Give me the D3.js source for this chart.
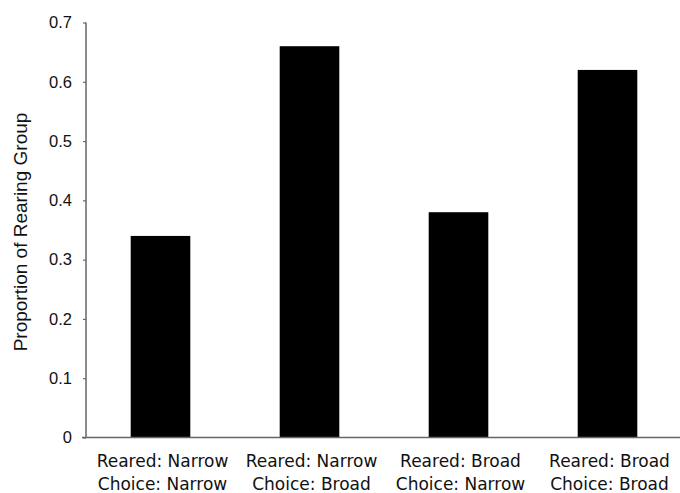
<!DOCTYPE html>
<html><head><meta charset="utf-8">
<script src="https://cdn.jsdelivr.net/npm/d3@7"></script>
<style>body{margin:0;background:#fff}</style>
</head><body>
<svg id="c" width="680" height="493"></svg>
<script>
const rearedLabels = ["Reared: Narrow", "Reared: Narrow", "Reared: Broad", "Reared: Broad"];
const choiceLabels = ["Choice: Narrow", "Choice: Broad", "Choice: Narrow", "Choice: Broad"];
const values = [0.34, 0.66, 0.38, 0.62];
const yTicks = [0, 0.1, 0.2, 0.3, 0.4, 0.5, 0.6, 0.7];
const yTitle = "Proportion of Rearing Group";

(function () {
const svg = d3.select("#c");
const mLeft = 86, mRight = 682, mTop = 22.5, mBottom = 437.5;
const idx = values.map((d, i) => i);
const x = d3.scaleBand().domain(idx).range([mLeft, mRight]).paddingInner(0.6).paddingOuter(0.3);
const y = d3.scaleLinear().domain([0, 0.7]).range([mBottom, mTop]);

svg.selectAll("rect.bar").data(values).enter().append("rect")
  .attr("x", (d, i) => x(i)).attr("width", x.bandwidth())
  .attr("y", d => y(d)).attr("height", d => y(0) - y(d)).attr("fill", "#000");

const yAxis = svg.append("g").attr("transform", `translate(${mLeft},0)`)
  .call(d3.axisLeft(y).tickValues(yTicks).tickSize(3).tickPadding(11).tickFormat(d => d === 0 ? "0" : d3.format(".1f")(d)));
yAxis.select(".domain").attr("stroke", "#666").attr("stroke-width", 1.5).attr("d", `M0,${mTop}V${mBottom}`);
yAxis.selectAll(".tick line").attr("stroke", "#666").attr("stroke-width", 1.2);
yAxis.selectAll("text").attr("font-family", "Liberation Sans, Arial, sans-serif").attr("font-size", 16.5).attr("fill", "#111");

svg.append("line").attr("x1", mLeft - 4).attr("x2", 680).attr("y1", mBottom).attr("y2", mBottom)
  .attr("stroke", "#666").attr("stroke-width", 1.5);

const lab = svg.append("g").attr("font-family", "DejaVu Sans, sans-serif").attr("font-size", 17).attr("fill", "#111").attr("text-anchor", "middle");
idx.forEach(i => {
  const cx = x(i) + x.bandwidth() / 2 + 2;
  lab.append("text").attr("x", cx).attr("y", 467).text(rearedLabels[i]);
  lab.append("text").attr("x", cx).attr("y", 490).text(choiceLabels[i]);
});

svg.append("text").attr("transform", `translate(27,232) rotate(-90)`)
  .attr("text-anchor", "middle").attr("font-family", "Liberation Sans, Arial, sans-serif")
  .attr("font-size", 19).attr("fill", "#111").text(yTitle);
})();
</script>
</body></html>
